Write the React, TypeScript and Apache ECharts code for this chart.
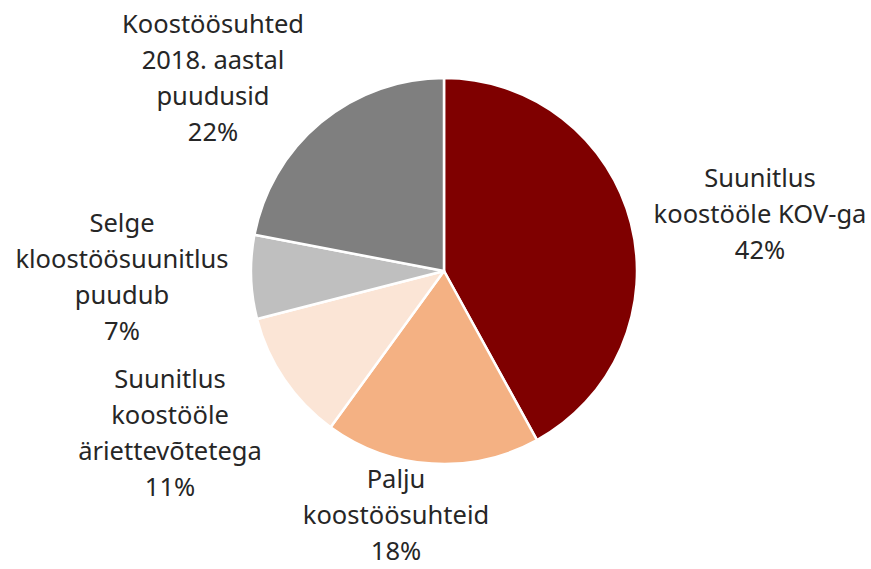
import React, { useEffect, useRef } from "react";
import * as echarts from "echarts";

const categories = [
  "Suunitlus\nkoostööle KOV-ga",
  "Palju\nkoostöösuhteid",
  "Suunitlus\nkoostööle\näriettevõtetega",
  "Selge\nkloostöösuunitlus\npuudub",
  "Koostöösuhted\n2018. aastal\npuudusid",
];
const values = [42, 18, 11, 7, 22];
const colors = ["#7F0000", "#F4B183", "#FBE5D6", "#BFBFBF", "#7F7F7F"];
// label block centres [x, y]
const labelPos: [number, number][] = [
  [760, 213],
  [396, 514],
  [170, 432],
  [122, 276],
  [213, 77],
];

export default function App() {
  const ref = useRef<HTMLDivElement>(null);
  useEffect(() => {
    const chart = echarts.init(ref.current!, undefined, { renderer: "svg" });
    chart.setOption({
      animation: false,
      backgroundColor: "#ffffff",
      series: [
        {
          type: "pie",
          center: [444, 271],
          radius: 193,
          startAngle: 90,
          clockwise: true,
          data: categories.map((c, i) => ({
            name: c,
            value: values[i],
            itemStyle: { color: colors[i] },
          })),
          itemStyle: { borderColor: "#ffffff", borderWidth: 2.5 },
          label: {
            show: true,
            position: "outside",
            formatter: (p: any) => `${p.name}\n${p.value}%`,
            fontFamily: "Noto Sans",
            fontSize: 25.5,
            lineHeight: 36,
            color: "#262626",
            align: "center",
            width: 300,
            overflow: "none",
          },
          labelLine: { show: false },
          labelLayout: (p: any) => ({
            x: labelPos[p.dataIndex][0],
            y: labelPos[p.dataIndex][1],
            align: "center",
            verticalAlign: "middle",
          }),
          emphasis: { disabled: true },
        },
      ],
    });
    return () => chart.dispose();
  }, []);
  return (
    <div
      ref={ref}
      style={{ position: "fixed", left: 0, top: 0, width: 871, height: 569 }}
    />
  );
}
